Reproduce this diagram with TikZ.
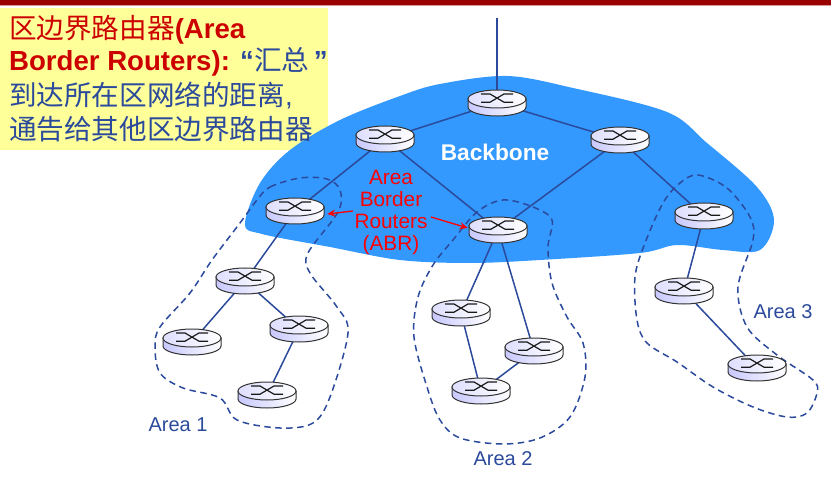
\documentclass[tikz,border=0pt]{standalone}
\usepackage{fontspec}
\setmainfont{Liberation Sans}
\newfontfamily\cjk{Noto Sans CJK SC}
\usetikzlibrary{arrows.meta}
\definecolor{blobblue}{HTML}{3399FF}
\definecolor{linkblue}{HTML}{2B4A9C}
\definecolor{dashblue}{HTML}{2B4A9C}
\definecolor{topred}{HTML}{990000}
\definecolor{boxyellow}{HTML}{FFFF99}
\definecolor{headred}{HTML}{CC0000}
\definecolor{abrred}{HTML}{FF0000}
\definecolor{routerfill}{HTML}{C8C8FF}
\tikzset{
  anchorbox/.style={minimum width=58pt,minimum height=26pt,inner sep=0pt},
  linkline/.style={draw=linkblue,line width=1.5pt},
  arealine/.style={draw=dashblue,line width=1.5pt,dash pattern=on 6.5pt off 4.5pt},
  arealabel/.style={text=dashblue,font=\fontsize{20}{20}\selectfont,inner sep=0pt},
  abrlabel/.style={text=abrred,font=\fontsize{20.8}{21.7}\selectfont,align=center,inner sep=0pt},
  abrarrow/.style={draw=abrred,line width=1.3pt,-{Stealth[length=8pt,width=7pt]}},
  headline/.style={anchor=west,inner sep=0pt,font=\fontsize{27.6}{27.6}\selectfont},
  routerpic/.pic={
    \path[left color=routerfill,right color=white,draw=black!80,line width=1pt] (-29,-4) -- (-29,4) arc[start angle=180,end angle=0,x radius=29,y radius=9] -- (29,-4) -- cycle;
    \path[left color=routerfill!60,right color=white,draw=black!80,line width=1pt] (0,-4) ellipse[x radius=29,y radius=9];
    \draw[black!90,line width=1.2pt] (-16,-0.8) -- (-7,-0.8) -- (7,-9) -- (16,-9) (-16,-9) -- (-7,-9) -- (7,-0.8) -- (16,-0.8);
  }
}
\begin{document}
\begin{tikzpicture}[x=1pt,y=-1pt]
\useasboundingbox (0,0) rectangle (831,484);
\fill[white] (0,0) rectangle (831,484);
\fill[topred] (0,0) rectangle (831,5);
\fill[topred!40] (0,5) rectangle (831,6);
\fill[boxyellow] (0,8) rectangle (328,150);
\fill[blobblue] plot[smooth cycle,tension=0.55] coordinates {(245,224) (260,183) (290,150) (340,120) (400,96) (440,84) (507,76) (573,88) (667,112) (707,143) (757,187) (774,220) (760,250) (723,250) (677,245) (640,253) (540,260) (470,263) (400,260) (330,247) (262,234)};
% node anchors
\node[anchorbox] (top) at (497,103) {};
\node[anchorbox] (bl) at (385,139) {};
\node[anchorbox] (br) at (620,140) {};
\node[anchorbox] (abra) at (295,211) {};
\node[anchorbox] (abrb) at (498,230) {};
\node[anchorbox] (abrc) at (704,216) {};
\node[anchorbox] (aa) at (245,281) {};
\node[anchorbox] (ab) at (192,342) {};
\node[anchorbox] (ac) at (299,329) {};
\node[anchorbox] (ad) at (267,395) {};
\node[anchorbox] (ba) at (461,313) {};
\node[anchorbox] (bb) at (534,351) {};
\node[anchorbox] (bc) at (481,391) {};
\node[anchorbox] (ca) at (684,291) {};
\node[anchorbox] (cb) at (757,368) {};
\coordinate (uplink) at (497,18);
% dashed areas
\draw[arealine] plot[smooth cycle,tension=0.55] coordinates {(257,200) (270,187) (300,178) (327,179) (340,190) (338,212) (308,253) (310,273) (337,307) (348,333) (330,397) (313,423) (280,428) (237,420) (220,398) (183,388) (160,373) (155,347) (160,327) (190,293) (212,260) (240,223)};
\draw[arealine] plot[smooth cycle,tension=0.55] coordinates {(503,200) (533,207) (552,220) (548,247) (552,283) (567,317) (583,343) (585,377) (570,417) (540,438) (503,444) (460,438) (440,420) (427,387) (414,337) (418,297) (433,265) (453,240) (477,212)};
\draw[arealine] plot[smooth cycle,tension=0.55] coordinates {(698,175) (727,188) (750,217) (753,240) (738,287) (747,327) (777,355) (813,380) (817,393) (807,413) (787,417) (753,407) (713,387) (677,362) (647,343) (637,320) (635,277) (645,243) (663,203) (680,183)};
% links
\foreach \a/\b in {uplink/top,top/bl,top/br,bl/abra,bl/abrb,br/abrb,br/abrc,abra/aa,aa/ab,aa/ac,ac/ad,abrb/ba,abrb/bb,ba/bc,bb/bc,abrc/ca,ca/cb}
  \draw[linkline] (\a.center) -- (\b.center);
% routers
\foreach \r in {top,bl,br,abra,abrb,abrc,aa,ab,ac,ad,ba,bb,bc,ca,cb}
  \pic at (\r.center) {routerpic};
% labels
\node[text=white,font=\bfseries\fontsize{22.7}{22.7}\selectfont,inner sep=0pt] (bbl) at (495,152) {Backbone};
\node[abrlabel] (abrl) at (391,212.5) {Area\\Border\\Routers\\(ABR)};
\coordinate (abrfroma) at (353,211);
\coordinate (abrfromb) at (431,217);
\draw[abrarrow] (abrfroma) -- ([xshift=3pt,yshift=-3pt]abra.east);
\draw[abrarrow] (abrfromb) -- ([xshift=-1pt,yshift=2pt]abrb.west);
\node[arealabel] (la) at (178,424.5) {Area 1};
\node[arealabel] (lb) at (503,458.5) {Area 2};
\node[arealabel] (lc) at (783,311.5) {Area 3};
% heading
\node[headline,text=headred] (ha) at (9,30) {{\cjk 区边界路由器}\textbf{(Area}};
\node[headline,text=headred] (hb) at (9,62) {\textbf{Border Routers):} \textcolor{linkblue}{\textbf{“}{\cjk 汇总}\,\textbf{”}}};
\node[headline,text=linkblue] (hc) at (9,95) {{\cjk 到达所在区网络的距离},};
\node[headline,text=linkblue] (hd) at (9,129) {{\cjk 通告给其他区边界路由器}};
\end{tikzpicture}
\end{document}
